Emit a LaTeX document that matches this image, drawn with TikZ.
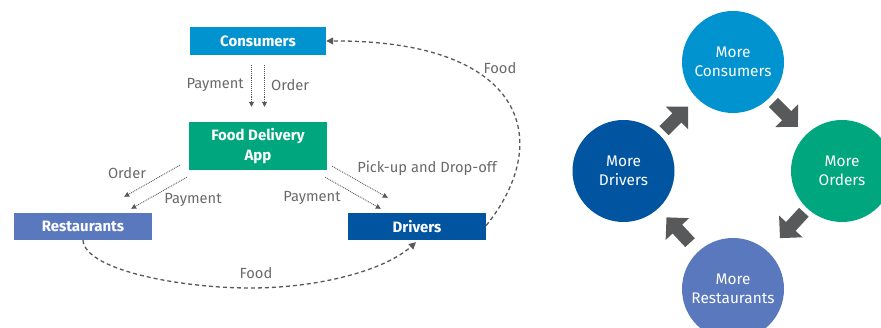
\documentclass[tikz,border=0pt]{standalone}
\usepackage{fontspec}
\setmainfont{Fira Sans}
\usetikzlibrary{arrows.meta,calc}
\definecolor{cblue}{RGB}{0,147,208}
\definecolor{cgreen}{RGB}{0,167,126}
\definecolor{cpurple}{RGB}{90,120,190}
\definecolor{cnavy}{RGB}{0,84,160}
\definecolor{lgray}{RGB}{105,106,108}
\definecolor{agray}{RGB}{88,89,91}
\begin{document}
\begin{tikzpicture}[x=1pt,y=-1pt,
  box/.style={fill=#1, minimum width=137pt, inner sep=0pt, text=white, font=\fontsize{15}{20}\selectfont\bfseries, align=center},
  lbl/.style={text=lgray, font=\fontsize{14.7}{16}\selectfont, inner sep=0pt},
  dotarrow/.style={draw=agray, densely dotted, line width=0.9pt, -{Triangle[length=5pt,width=5pt]}},
  foodline/.style={draw=agray, dash pattern=on 4pt off 3pt, line width=1.3pt, -{Triangle[length=7pt,width=7pt]}},
  circ/.style={circle, fill=#1, minimum size=102pt, inner sep=0pt, text=white, align=center, font=\fontsize{15.4}{19}\selectfont},
  blk/.style={draw=agray, line width=13pt, -{Triangle[width=31pt,length=16pt]}}
]
\useasboundingbox (0,0) rectangle (881,328);
\clip (0,0) rectangle (881,328);
\fill[white] (0,0) rectangle (881,328);

% boxes
\node[box=cblue, minimum width=136pt, minimum height=28pt] (cons) at (258,41) {Consumers};
\node[box=cgreen, minimum width=138pt, minimum height=48pt] (app) at (258,146) {Food Delivery\\App};
\node[box=cpurple, minimum width=138pt, minimum height=27pt] (rest) at (83,226.5) {Restaurants};
\node[box=cnavy, minimum width=138pt, minimum height=27pt] (drv) at (417,226.5) {Drivers};

% consumers -> app
\draw[dotarrow] ($(cons.south)+(-6.5,10)$) -- ($(app.north)+(-6.5,-15)$);
\draw[dotarrow] ($(cons.south)+(6.5,10)$) -- ($(app.north)+(6.5,-15)$);
\node[lbl, anchor=east] (lpay1) at (244,85) {Payment};
\node[lbl, anchor=west] (lord1) at (271,85) {Order};

% app -> restaurants
\draw[dotarrow] ($(app.south west)+(-9,-5)$) -- ($(rest.north east)+(-28,-16)$);
\draw[dotarrow] ($(app.south west)+(-2,7)$) -- ($(rest.north east)+(-21,-4)$);
\node[lbl] (lord2) at (127,173) {Order};
\node[lbl] (lpay2) at (193,200) {Payment};

% app -> drivers
\draw[dotarrow] ($(app.south east)+(5,-4)$) -- ($(drv.north west)+(40,-15)$);
\draw[dotarrow] ($(app.south east)+(-2,7)$) -- ($(drv.north west)+(33,-4)$);
\node[lbl] (lpick) at (427,168) {Pick-up and Drop-off};
\node[lbl] (lpay3) at (312,198) {Payment};

% food curves
\draw[foodline] (drv.east) ++(0,-1) .. controls (555,140) and (525,40) .. (cons.east);
\node[lbl] (lfood1) at (500,68) {Food};
\draw[foodline] (rest.south) .. controls (85,270) and (180,288) .. (250,288) .. controls (320,288) and (385,270) .. ($(drv.south)+(-1,2)$);
\node[lbl] (lfood2) at (256,273) {Food};

% circles
\node[circ=cblue] (cc) at (733,62) {More\\Consumers};
\node[circ=cgreen] (co) at (842,171) {More\\Orders};
\node[circ=cpurple] (cr) at (733,289) {More\\Restaurants};
\node[circ=cnavy] (cd) at (623.5,171) {More\\Drivers};

% block arrows
\draw[blk, shorten <=6pt, shorten >=11pt] (cc) -- (co);
\draw[blk, shorten <=5pt, shorten >=18pt] (co) -- (cr);
\draw[blk, shorten <=12pt, shorten >=12pt] (cr) -- (cd);
\draw[blk, shorten <=6pt, shorten >=12pt] (cd) -- (cc);
\end{tikzpicture}
\end{document}
